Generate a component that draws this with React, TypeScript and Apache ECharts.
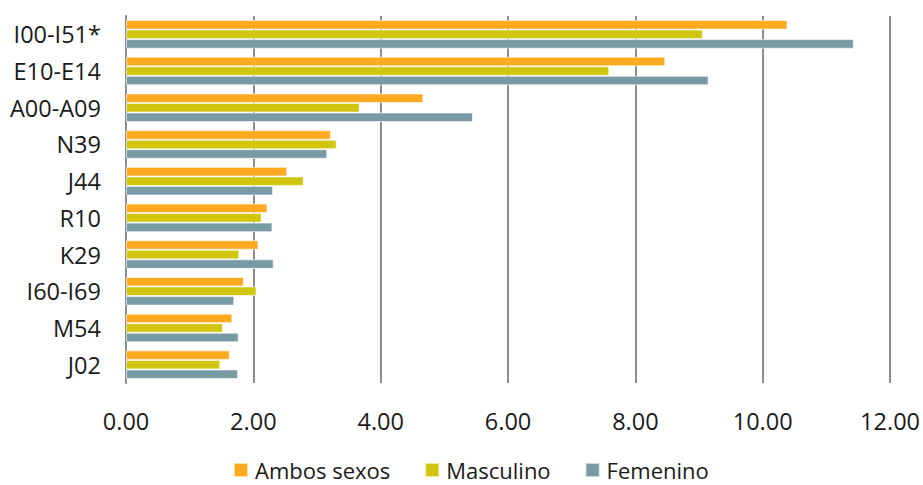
import React, { useEffect, useRef } from "react";
import * as echarts from "echarts";

const categories = ["I00-I51*", "E10-E14", "A00-A09", "N39", "J44", "R10", "K29", "I60-I69", "M54", "J02"];
const ambos = [10.39, 8.47, 4.67, 3.22, 2.53, 2.22, 2.08, 1.85, 1.67, 1.63];
const masculino = [9.06, 7.59, 3.67, 3.31, 2.79, 2.13, 1.78, 2.05, 1.52, 1.48];
const femenino = [11.43, 9.15, 5.45, 3.16, 2.31, 2.30, 2.32, 1.70, 1.77, 1.76];
const seriesNames = ["Ambos sexos", "Masculino", "Femenino"];
const colors = ["#FFAA1F", "#D1C60D", "#779AA5"];

export default function App() {
  const ref = useRef<HTMLDivElement>(null);
  useEffect(() => {
    const chart = echarts.init(ref.current!, null, { renderer: "svg" });
    const font = "'Open Sans', sans-serif";
    const data = [ambos, masculino, femenino];
    chart.setOption({
      animation: false,
      textStyle: { fontFamily: font },
      grid: { left: 126, right: 31, top: 16, bottom: 102, containLabel: false },
      legend: {
        top: 459,
        left: 233,
        padding: 0,
        itemWidth: 14,
        itemHeight: 14,
        itemGap: 34,
        icon: "rect",
        textStyle: {
          fontSize: 22,
          lineHeight: 20,
          color: "#1a1a1a",
          fontFamily: font,
          padding: [0, 0, 0, 2],
        },
        data: seriesNames,
      },
      xAxis: {
        type: "value",
        min: 0,
        max: 12,
        interval: 2,
        axisLabel: {
          formatter: (v: number) => v.toFixed(2),
          fontSize: 23.5,
          color: "#1a1a1a",
          margin: 26,
          fontFamily: font,
        },
        splitLine: { show: true, lineStyle: { color: "#8c8c8c", width: 2 } },
        axisLine: { show: false },
        axisTick: { show: false },
      },
      yAxis: {
        type: "category",
        data: categories,
        inverse: true,
        axisLine: { show: true, lineStyle: { color: "#8c8c8c", width: 2 } },
        axisTick: { show: false },
        axisLabel: { fontSize: 23.5, color: "#1a1a1a", margin: 25, fontFamily: font },
      },
      series: seriesNames.map((name, i) => ({
        name,
        type: "bar",
        data: data[i],
        barGap: "0%",
        barCategoryGap: "22%",
        itemStyle: { color: colors[i], borderColor: "rgba(255,255,255,0.6)", borderWidth: 1 },
      })),
    });
    return () => chart.dispose();
  }, []);
  return <div ref={ref} style={{ position: "absolute", left: 0, top: 0, width: 923, height: 485 }} />;
}
